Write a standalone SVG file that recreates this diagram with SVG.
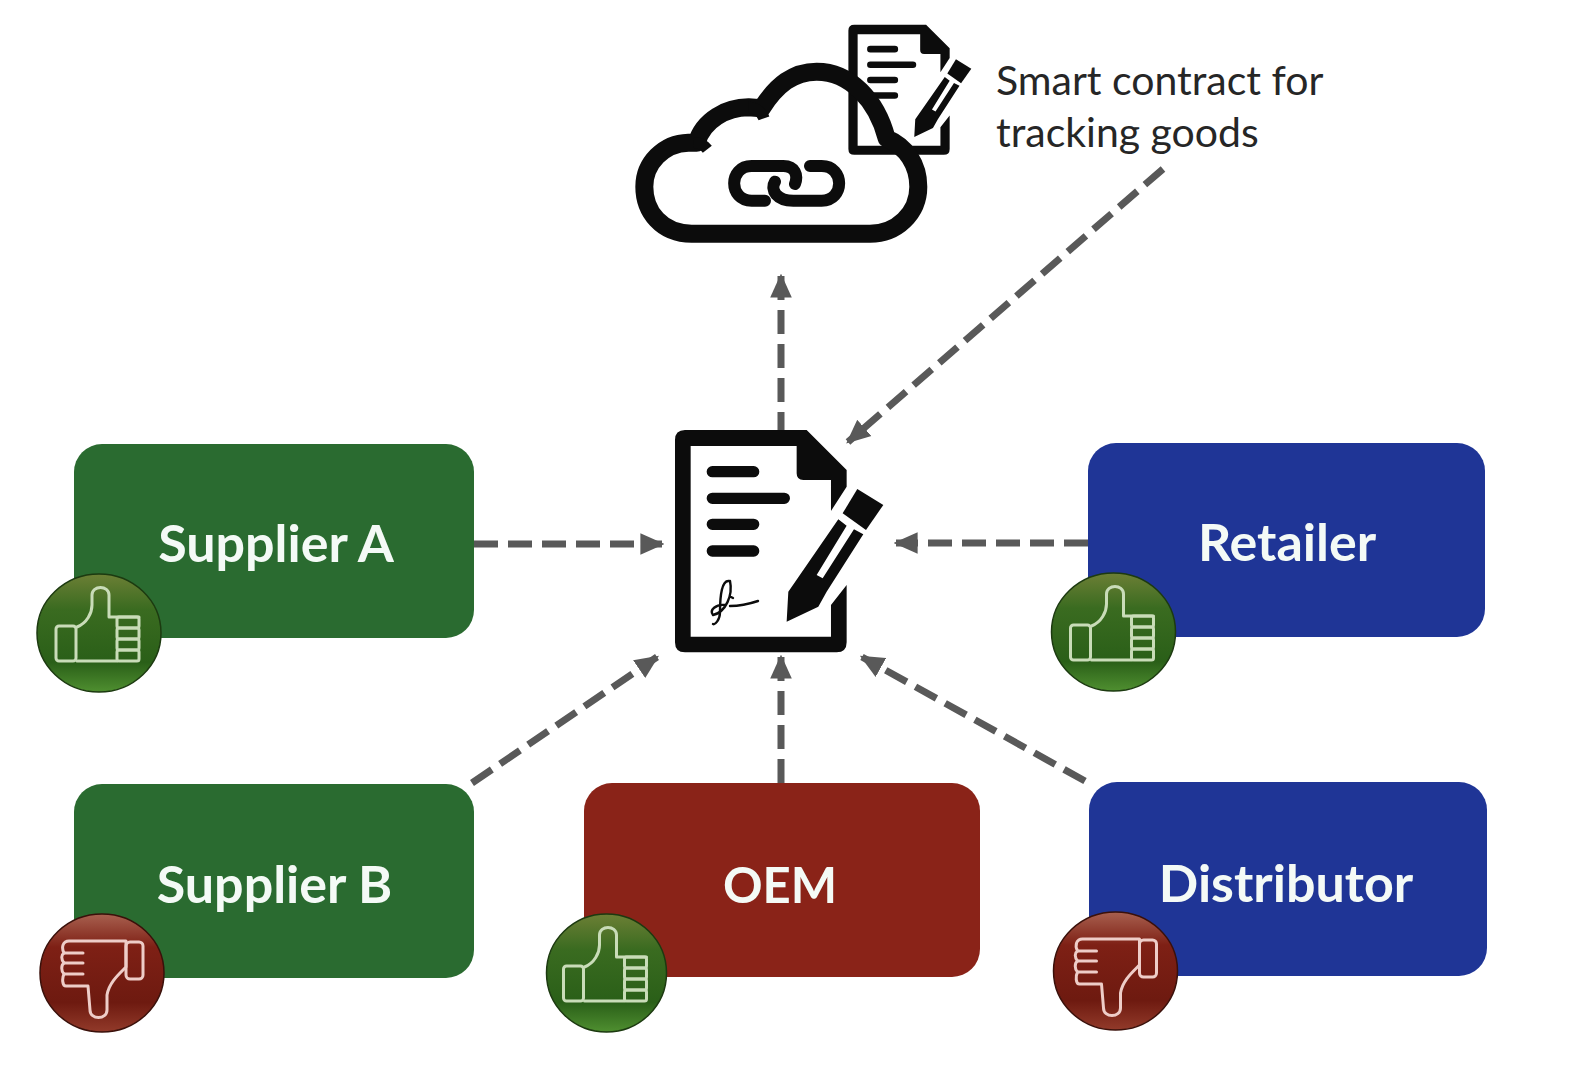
<svg xmlns="http://www.w3.org/2000/svg" xmlns:xlink="http://www.w3.org/1999/xlink" width="1580" height="1067" viewBox="0 0 1580 1067">
<style>
.box{stroke:none}
.lbl{font-family:"Lato","Open Sans","Liberation Sans",sans-serif;font-weight:700;font-size:52px;fill:#f4faf6;text-anchor:middle}
.note{font-family:"Lato","Open Sans","Liberation Sans",sans-serif;font-size:41px;fill:#262626}
.conn{fill:none;stroke:#595959;stroke-width:7;stroke-dasharray:24 10;marker-end:url(#arr)}
.ink{fill:#0c0c0c}
.thumb{fill:none;stroke-width:3;stroke-linejoin:round;stroke-linecap:round}
.up{stroke:#c9dcb8}
.down{stroke:#eecdc8}
</style>
<defs>
<marker id="arr" viewBox="0 0 10 10" refX="9" refY="5" markerUnits="userSpaceOnUse" markerWidth="24" markerHeight="24" orient="auto"><path d="M0,0.5 L10,5 L0,9.5 Z" fill="#595959"/></marker>
<linearGradient id="gG" x1="0" y1="0" x2="0" y2="1"><stop offset="0" stop-color="#6c7f35"/><stop offset=".3" stop-color="#3a6b20"/><stop offset=".75" stop-color="#2a5f18"/><stop offset="1" stop-color="#4f8f30"/></linearGradient>
<linearGradient id="gR" x1="0" y1="0" x2="0" y2="1"><stop offset="0" stop-color="#a8604f"/><stop offset=".28" stop-color="#7e2015"/><stop offset=".75" stop-color="#6e1a10"/><stop offset="1" stop-color="#923a2a"/></linearGradient>
<g id="doc">
<path class="ink" d="M105,45 H470 L590,165 V215 L543,288 V195 H460 Q440,195 440,175 V93 H122 V665 H543 V570 L590,510 V682 Q590,712 560,712 H105 Q75,712 75,682 V75 Q75,45 105,45 Z"/>
<path d="M187,170 H311 M187,250 H403 M187,328 H311 M187,408 H311" fill="none" stroke="#0c0c0c" stroke-width="34" stroke-linecap="round"/>
<path class="ink" d="M410,620 L415,530 L565,313 L590,332 L500,480 L518,490 L612,343 L640,358 L530,530 L505,575 Z"/>
<path class="ink" d="M622,222 L700,270 L648,345 L578,295 Z"/>
</g>
<g id="up">
<rect x="-43" y="-7" width="20" height="35" rx="3" class="thumb up"/>
<path class="thumb up" d="M-22,-6 C-12,-10 -7,-20 -7,-28 V-38 C-7,-48 10,-48 10,-38 V-16 H40 M18,28 H-22"/>
<g class="thumb up"><rect x="18" y="-16" width="22" height="11" rx="2"/><rect x="18" y="-5" width="22" height="11" rx="2"/><rect x="18" y="6" width="22" height="11" rx="2"/><rect x="18" y="17" width="22" height="11" rx="2"/></g>
</g>
<g id="down">
<path class="thumb down" d="M-33,-32 H24 V-6 C16,2 7,10 5,22 V37 C5,47 -12,47 -12,37 L-14,13 H-36 C-40,13 -40,5 -38,1 C-41,-2 -41,-8 -38,-10 C-41,-14 -41,-18 -38,-20 C-41,-26 -39,-32 -33,-32 Z"/>
<path class="thumb down" d="M-38,-20 H-19 M-38,-10 H-19 M-38,1 H-19"/>
<rect x="24" y="-31" width="17" height="37" rx="4" class="thumb down"/>
</g>
</defs>
<g id="connectors">
<path class="conn" d="M781,436 V276"/>
<path class="conn" d="M1163,169 L848,442"/>
<path class="conn" d="M474,544 H662"/>
<path class="conn" d="M1088,543 H896"/>
<path class="conn" d="M472,783 L657,657"/>
<path class="conn" d="M781,783 V657"/>
<path class="conn" d="M1085,781 L862,657"/>
</g>
<g id="cloud" transform="translate(620,10) scale(.3333)">
<use href="#doc" transform="translate(641,18) scale(.59,.585)"/>
<path d="M215,671 C125,671 73,605 73,530 C73,460 130,400 205,398 L230,398 C250,330 320,292 385,292 L425,295 C470,225 520,185 590,185 C690,185 770,270 800,385 C860,410 895,465 895,530 C895,610 830,671 750,671 Z" fill="none" stroke="#0c0c0c" stroke-width="54" stroke-linejoin="round"/>
<path d="M222,398 C240,398 252,405 262,418 M385,292 C405,292 425,305 432,325" fill="none" stroke="#0c0c0c" stroke-width="34" stroke-linecap="butt"/>
<path d="M435,572 H395 C325,572 325,468 395,468 H490 C525,468 535,495 525,522 M570,468 H605 C675,468 675,572 605,572 H520 C470,572 450,540 465,515" fill="none" stroke="#0c0c0c" stroke-width="36" stroke-linecap="round"/>
</g>
<g id="note"><text class="note" x="996" y="95">Smart contract for</text><text class="note" x="996" y="147">tracking goods</text></g>
<g id="contract">
<use href="#doc" transform="translate(650,415) scale(.3333)"/>
<path d="M729,581 C722,580 720,595 720,612 C720,620 715,625 713,624 M730,581 C733,595 726,612 713,615 C709,610 716,604 725,605 M731,597 L733,598 M730,606 C740,606 749,604 758,601" fill="none" stroke="#0c0c0c" stroke-width="2.4" stroke-linecap="round"/>
</g>
<g id="supplier-a">
<rect class="box" x="74" y="444" width="400" height="194" rx="28" fill="#2a6b30"/>
<text class="lbl" x="276" y="562">Supplier A</text>
<ellipse cx="99" cy="633" rx="62" ry="59" fill="url(#gG)" stroke="#1c3a10" stroke-width="1.5"/>
<use href="#up" x="99" y="633"/>
</g>
<g id="supplier-b">
<rect class="box" x="74" y="784" width="400" height="194" rx="28" fill="#2a6b30"/>
<text class="lbl" x="274.500" y="903">Supplier B</text>
<ellipse cx="102" cy="973" rx="62" ry="59" fill="url(#gR)" stroke="#3a100a" stroke-width="1.5"/>
<use href="#down" x="102" y="973"/>
</g>
<g id="oem">
<rect class="box" x="584" y="783" width="396" height="194" rx="28" fill="#8a2318"/>
<text class="lbl" x="780" y="903" style="font-size:49px">OEM</text>
<ellipse cx="606.500" cy="973" rx="60" ry="59" fill="url(#gG)" stroke="#1c3a10" stroke-width="1.5"/>
<use href="#up" x="606.500" y="973"/>
</g>
<g id="retailer">
<rect class="box" x="1088" y="443" width="397" height="194" rx="28" fill="#1f3596"/>
<text class="lbl" x="1287" y="561">Retailer</text>
<ellipse cx="1113.500" cy="632" rx="62" ry="59" fill="url(#gG)" stroke="#1c3a10" stroke-width="1.5"/>
<use href="#up" x="1113.500" y="632"/>
</g>
<g id="distributor">
<rect class="box" x="1089" y="782" width="398" height="194" rx="28" fill="#1f3596"/>
<text class="lbl" x="1286" y="902">Distributor</text>
<ellipse cx="1115.500" cy="971" rx="62" ry="59" fill="url(#gR)" stroke="#3a100a" stroke-width="1.5"/>
<use href="#down" x="1115.500" y="971"/>
</g>
</svg>
